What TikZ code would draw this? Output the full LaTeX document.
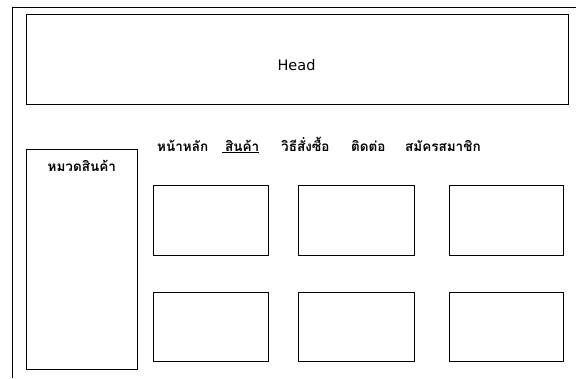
\documentclass[tikz,border=0pt]{standalone}
\usepackage{fontspec}
\newfontfamily\thaifont[Script=Thai]{Loma}
\setsansfont{DejaVu Sans}
\begin{document}
\begin{tikzpicture}[x=1pt,y=-1pt,
  frame/.style={draw=black,line width=0.8pt},
  box/.style={draw=black,line width=0.8pt},
  thai/.style={font=\thaifont\bfseries\fontsize{13.5}{15}\selectfont,inner sep=0pt,anchor=base west},
  headtxt/.style={font=\sffamily\fontsize{14.5}{16}\selectfont}]
\useasboundingbox (0,0) rectangle (576,378);
% outer frame (top and left)
\draw[frame] (576,7.5) -- (12.5,7.5) -- (12.5,378);
% head
\draw[box] (26.5,14.5) rectangle (568,104);
\node[headtxt] (head) at (296.5,65) {Head};
% left panel
\draw[box] (26.5,149.5) rectangle (137.5,369.5);
\node[thai] (cat) at (47.5,171) {หมวดสินค้า};
% nav
\node[thai] (n1) at (157,151) {หน้าหลัก};
\node[thai] (n2) at (222,151) {\underline{\hspace{3pt}สินค้า}};
\node[thai] (n3) at (281,151) {วิธีสั่งซื้อ};
\node[thai] (n4) at (351,151) {ติดต่อ};
\node[thai] (n5) at (405,151) {สมัครสมาชิก};
% product boxes
\draw[box] (153.5,185.5) rectangle (268.5,255.5);
\draw[box] (298.5,185.5) rectangle (414.5,255.5);
\draw[box] (449.5,185.5) rectangle (563.5,255.5);
\draw[box] (153.5,292.5) rectangle (268.5,361.5);
\draw[box] (298.5,292.5) rectangle (414.5,361.5);
\draw[box] (449.5,292.5) rectangle (563.5,361.5);
\end{tikzpicture}
\end{document}
